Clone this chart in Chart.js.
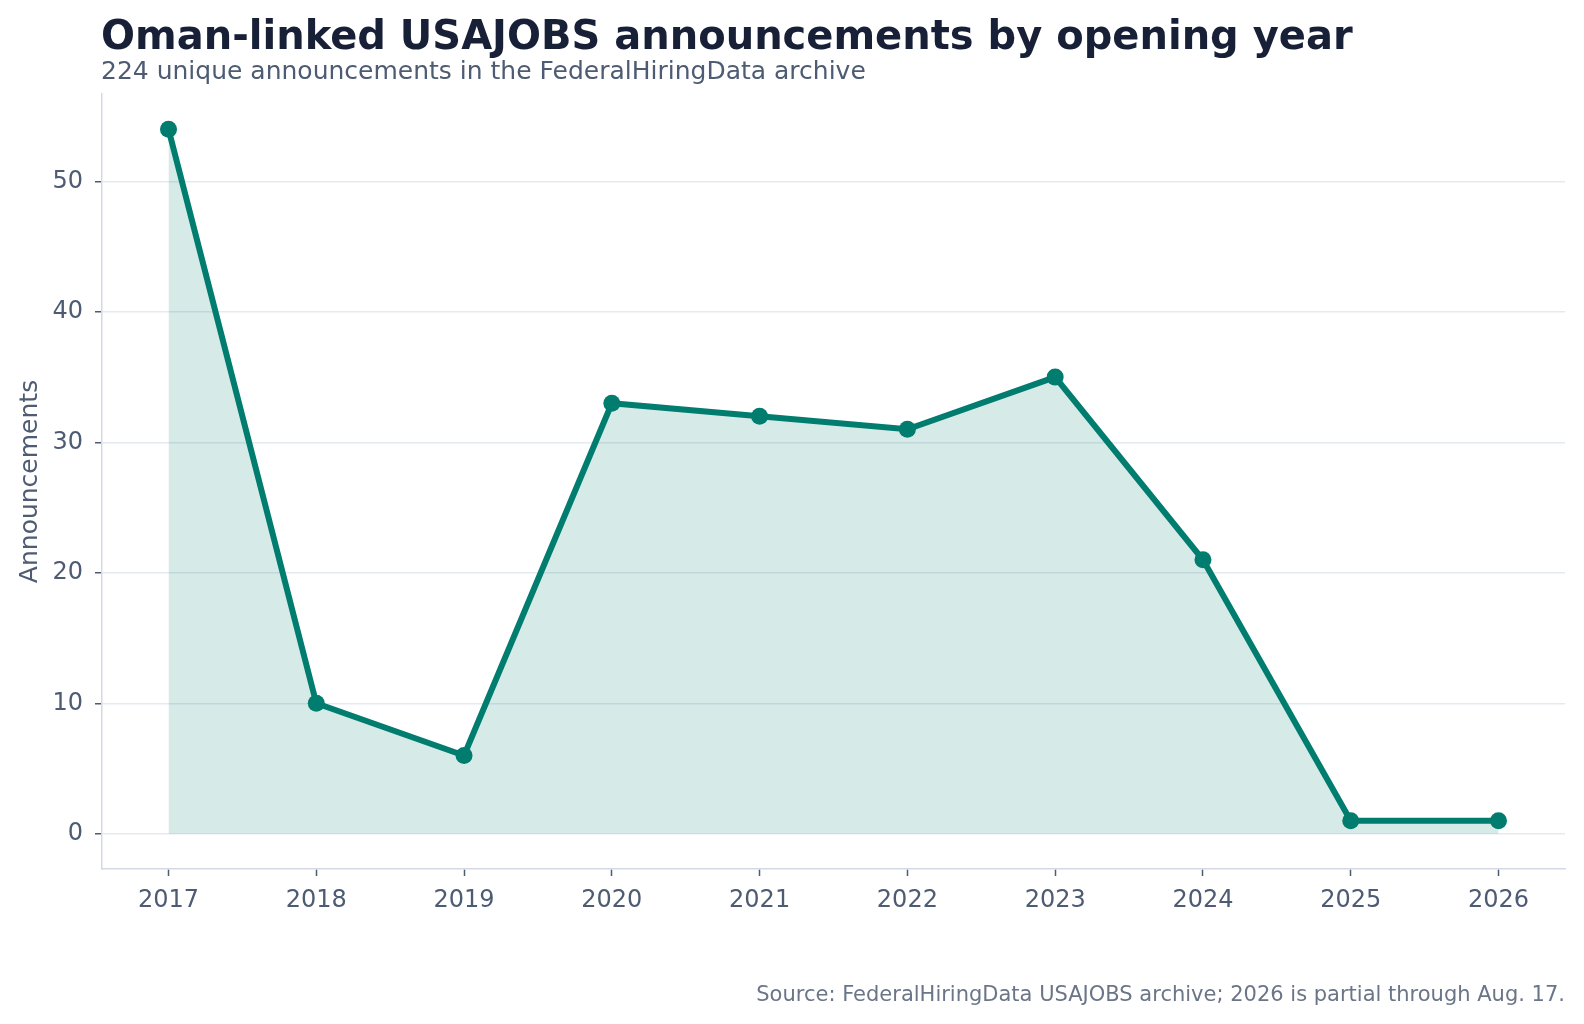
<!DOCTYPE html>
<html>
<head>
<meta charset="utf-8">
<script src="https://cdn.jsdelivr.net/npm/chart.js@4/dist/chart.umd.min.js"></script>
<style>
  html, body { margin: 0; padding: 0; background: #fff; overflow: hidden; }
  #wrap { position: relative; width: 1584px; height: 1024px; font-family: "DejaVu Sans", sans-serif; }
  #chart { position: absolute; left: 0; top: 0; }
  .title { position: absolute; left: 101px; top: 15px; line-height: 1; font-size: 40px; font-weight: bold; color: #172036; white-space: nowrap; }
  .subtitle { position: absolute; left: 101px; top: 58px; line-height: 1; font-size: 25px; color: #4d5b73; white-space: nowrap; }
  .source { position: absolute; right: 19px; top: 984px; line-height: 1; font-size: 21px; color: #6b7588; white-space: nowrap; }
</style>
</head>
<body>
<div id="wrap">
  <canvas id="chart" width="1584" height="1024"></canvas>
  <div class="title">Oman-linked USAJOBS announcements by opening year</div>
  <div class="subtitle">224 unique announcements in the FederalHiringData archive</div>
  <div class="source">Source: FederalHiringData USAJOBS archive; 2026 is partial through Aug. 17.</div>
</div>
<script>
// data
const years = [2017, 2018, 2019, 2020, 2021, 2022, 2023, 2024, 2025, 2026];
const announcements = [54, 10, 6, 33, 32, 31, 35, 21, 1, 1];
const yTicks = [0, 10, 20, 30, 40, 50];

const teal = '#007d6f';
const tickText = '#4d5b73';

const points = years.map((yr, i) => ({ x: yr, y: announcements[i] }));

new Chart(document.getElementById('chart'), {
    type: 'line',
    data: {
        datasets: [{
            data: points,
            borderColor: teal,
            borderWidth: 6,
            backgroundColor: 'rgba(0,125,111,0.16)',
            fill: 'origin',
            pointRadius: 8.5,
            pointBackgroundColor: teal,
            pointBorderWidth: 0,
            tension: 0
        }]
    },
    options: {
        responsive: false,
        devicePixelRatio: 1,
        animation: false,
        layout: { padding: { top: 94, right: 19, bottom: 0, left: 0 } },
        plugins: { legend: { display: false }, tooltip: { enabled: false } },
        scales: {
            x: {
                type: 'linear',
                min: 2016.55,
                max: 2026.45,
                afterBuildTicks: s => { s.ticks = years.map(v => ({ value: v })); },
                afterFit: s => { s.height = 155; },
                grid: { drawOnChartArea: false, tickLength: 7, tickColor: '#4d5b73', tickWidth: 1.5 },
                border: { color: '#d3d9e4', width: 1.5 },
                ticks: {
                    color: tickText,
                    padding: 10,
                    font: { family: 'DejaVu Sans', size: 24 },
                    callback: v => String(v)
                }
            },
            y: {
                min: -2.7,
                max: 56.7,
                afterBuildTicks: s => { s.ticks = yTicks.map(v => ({ value: v })); },
                afterFit: s => { s.width = 102; },
                grid: { color: '#e5e9f0', lineWidth: 1.5, tickLength: 7, tickColor: '#4d5b73', tickWidth: 1.5 },
                border: { color: '#d3d9e4', width: 1.5 },
                ticks: {
                    color: tickText,
                    padding: 12,
                    font: { family: 'DejaVu Sans', size: 24 }
                },
                title: {
                    display: true,
                    text: 'Announcements',
                    color: tickText,
                    padding: { top: 15, bottom: 0 },
                    font: { family: 'DejaVu Sans', size: 25 }
                }
            }
        }
    }
});
</script>
</body>
</html>
